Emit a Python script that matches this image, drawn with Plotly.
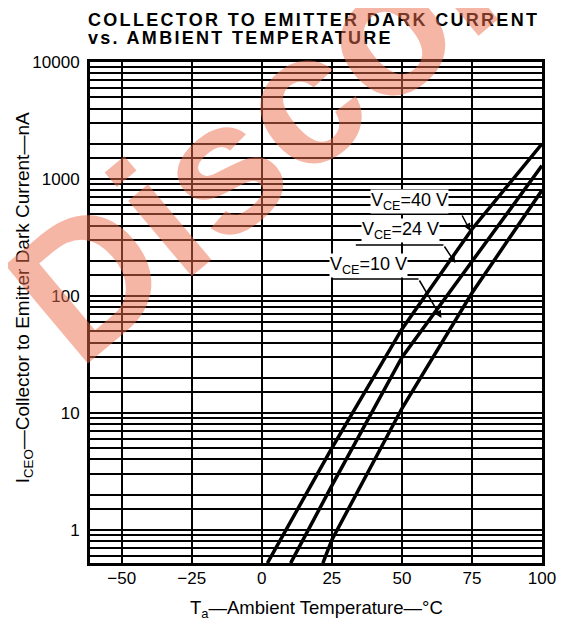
import plotly.graph_objects as go

# ---------------- data ----------------
temp_40v = [2.0, 25, 50, 75, 100]
i_40v = [0.52, 5.0, 52, 372, 2000]

temp_24v = [10.3, 25, 50, 75, 100]
i_24v = [0.52, 2.39, 29.8, 198, 1300]

temp_10v = [21.8, 25, 50, 75, 100]
i_10v = [0.52, 0.82, 10.9, 106, 800]

series_names = ["V<sub>CE</sub>=40 V", "V<sub>CE</sub>=24 V", "V<sub>CE</sub>=10 V"]

x_tick_vals = [-50, -25, 0, 25, 50, 75, 100]
y_tick_vals = [1, 10, 100, 1000, 10000]
y_tick_text = ["1", "10", "100", "1000", "10000"]

# ---------------- layout constants ----------------
OFF = 8                     # page body margin
W, H = 568 - OFF, 624 - OFF
# plot area in page pixels
PL, PR, PT, PB = 90, 544, 62, 563
L, R, T, B = PL - OFF, PR - OFF, PT - OFF, PB - OFF
X_RANGE = [-61.3, 100]
Y_RANGE = [-0.283, 4.0]  # log10
FONT = "Liberation Sans"


def px_to_data(px, py):
    xv = X_RANGE[0] + (px - PL) / (PR - PL) * (X_RANGE[1] - X_RANGE[0])
    yv = Y_RANGE[1] - (py - PT) / (PB - PT) * (Y_RANGE[1] - Y_RANGE[0])
    return xv, yv


def px_to_paper(px, py):
    return (px - PL) / (PR - PL), (PB - py) / (PB - PT)


minor_vals = []
for k in range(-1, 4):
    for m in [1.5, 2, 3, 4, 5, 6, 7, 8, 9]:
        v = m * 10 ** k
        if 0.55 <= v < 10000:
            minor_vals.append(v)

fig = go.Figure()
for tx, iy, nm in [(temp_40v, i_40v, series_names[0]),
                   (temp_24v, i_24v, series_names[1]),
                   (temp_10v, i_10v, series_names[2])]:
    fig.add_trace(go.Scatter(x=tx, y=iy, mode="lines", name=nm,
                             line=dict(color="black", width=3.5),
                             showlegend=False, hoverinfo="skip"))

annotations = []
shapes = []

# curve labels
label_pos = [(411, 201), (402, 230), (370, 265)]
for (px, py), txt in zip(label_pos, series_names):
    xv, yv = px_to_data(px, py)
    annotations.append(dict(x=xv, y=yv, xref="x", yref="y", text=txt,
                            showarrow=False, bgcolor="white", borderpad=0,
                            font=dict(family=FONT, size=18, color="black")))

# leader lines: horizontal part + arrow
leaders = [((453, 214), (463, 214), (472, 231)),
           ((357, 245), (445, 245), (457, 263)),
           ((333, 279), (420, 279), (443, 318))]
for a, b, c in leaders:
    x0, y0 = px_to_data(*a)
    x1, y1 = px_to_data(*b)
    x2, y2 = px_to_data(*c)
    # shapes on a log axis take data values
    shapes.append(dict(type="line", xref="x", yref="y", x0=x0, y0=10 ** y0,
                       x1=x1, y1=10 ** y1, line=dict(color="black", width=1.5)))
    annotations.append(dict(x=x2, y=y2, xref="x", yref="y", ax=x1, ay=y1,
                            axref="x", ayref="y", text="", showarrow=True,
                            arrowhead=2, arrowsize=1, arrowwidth=1.5,
                            arrowcolor="black", standoff=0, startstandoff=0))

# title (two lines, letter-spaced)
for txt, cy in [("COLLECTOR TO EMITTER DARK CURRENT", 20.5),
                ("vs. AMBIENT TEMPERATURE", 38.5)]:
    xp, yp = px_to_paper(86, cy)
    annotations.append(dict(x=xp, y=yp, xref="paper", yref="paper",
                            xanchor="left", yanchor="middle", showarrow=False,
                            text='<span style="letter-spacing:2.3px">' + txt + "</span>",
                            font=dict(family=FONT, size=18, color="black", weight="bold")))

# axis titles
xp, yp = px_to_paper(317, 609)
annotations.append(dict(x=xp, y=yp, xref="paper", yref="paper", showarrow=False,
                        xanchor="center", yanchor="middle",
                        text="T<sub>a</sub>\u2014Ambient Temperature\u2014\u00b0C",
                        font=dict(family=FONT, size=18.5, color="black")))
xp, yp = px_to_paper(24, 298)
annotations.append(dict(x=xp, y=yp, xref="paper", yref="paper", showarrow=False,
                        xanchor="center", yanchor="middle", textangle=-90,
                        text="I<sub>CEO</sub>\u2014Collector to Emitter Dark Current\u2014nA",
                        font=dict(family=FONT, size=19, color="black")))

# watermark
xp, yp = px_to_paper(492, -59)
annotations.append(dict(x=xp, y=yp, xref="paper", yref="paper", showarrow=False,
                        xanchor="center", yanchor="middle", textangle=-40,
                        text="Discontinued",
                        font=dict(family=FONT, size=187, color="rgba(237,109,77,0.5)",
                                  weight="bold")))

fig.update_layout(
    width=W, height=H,
    margin=dict(l=L, r=W - R, t=T, b=H - B),
    paper_bgcolor="white", plot_bgcolor="white",
    annotations=annotations, shapes=shapes,
    font=dict(family=FONT, color="black"),
)
fig.update_xaxes(range=X_RANGE, tickvals=x_tick_vals, showgrid=True,
                 gridcolor="black", gridwidth=1.5, zeroline=False,
                 showline=True, mirror=True, linecolor="black", linewidth=3,
                 ticks="", tickfont=dict(family=FONT, size=17, color="black"),
                 ticklabelstandoff=-2)
fig.update_yaxes(type="log", range=Y_RANGE, tickvals=y_tick_vals, ticktext=y_tick_text,
                 showgrid=True, gridcolor="black", gridwidth=2, zeroline=False,
                 showline=True, mirror=True, linecolor="black", linewidth=3,
                 ticks="", tickfont=dict(family=FONT, size=17, color="black"),
                 ticklabelstandoff=4,
                 minor=dict(tickvals=minor_vals, showgrid=True, gridcolor="black",
                            gridwidth=1.5, ticks=""))

fig.write_html("out.html")
